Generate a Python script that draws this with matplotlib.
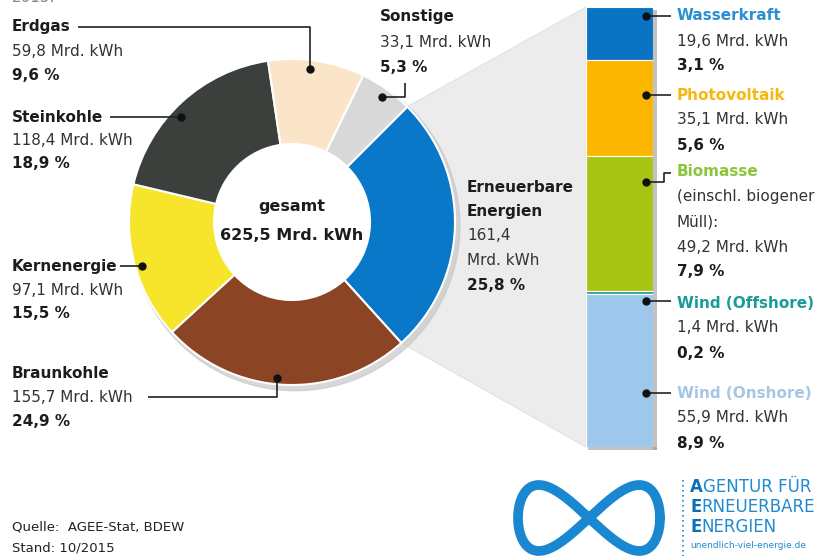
import numpy as np
import matplotlib.pyplot as plt
from matplotlib.patches import Polygon, Rectangle, Wedge

W, H = 826, 560

# gross electricity generation 2015, Mrd. kWh (clockwise from top right)
sources = ['Erneuerbare Energien', 'Braunkohle', 'Kernenergie', 'Steinkohle', 'Erdgas', 'Sonstige']
twh = [161.4, 155.7, 97.1, 118.4, 59.8, 33.1]
shares = ['25,8 %', '24,9 %', '15,5 %', '18,9 %', '9,6 %', '5,3 %']
src_colors = ['#0a78c8', '#8b4424', '#f6e52b', '#3b403d', '#fbe5c8', '#d8d8d8']
total = '625,5'

# renewables split, top to bottom
ee_names = ['Wasserkraft', 'Photovoltaik', 'Biomasse', 'Wind (Offshore)', 'Wind (Onshore)']
ee_twh = [19.6, 35.1, 49.2, 1.4, 55.9]
ee_shares = ['3,1 %', '5,6 %', '7,9 %', '0,2 %', '8,9 %']
ee_colors = ['#0b73c4', '#fbb700', '#a8c514', '#2f9e9e', '#9dc8eb']
ee_text_colors = ['#2a90d2', '#f5b80c', '#8cc43c', '#1b9a9a', '#a6c6e4']

DARK = '#1c1c1c'
GREY = '#333333'
FS = 11
LOGO = '#1f8ad0'

fig = plt.figure(figsize=(W / 100, H / 100), dpi=100)


def px_axes(x0, y0, w, h):
    a = fig.add_axes([x0 / W, 1 - (y0 + h) / H, w / W, h / H])
    a.patch.set_visible(False)
    a.axis('off')
    return a


# background layer: grey funnel from the donut to the bar
bg = px_axes(0, 0, W, H)
bg.set_xlim(0, W)
bg.set_ylim(H, 0)

cx, cy, R, ring = 292, 222, 163, 85
bx0, by0, bw, bh = 586, 7, 67, 440

a0 = 45
a1 = a0 - 360 * twh[0] / sum(twh)
p0 = (cx + R * np.cos(np.radians(a0)), cy - R * np.sin(np.radians(a0)))
p1 = (cx + R * np.cos(np.radians(a1)), cy - R * np.sin(np.radians(a1)))
bg.add_patch(Polygon([p0, (bx0, by0), (bx0, by0 + bh), p1], closed=True,
                     facecolor='#ececec', edgecolor='#e2e2e2', lw=0.8))
# bar shadow
bg.add_patch(Rectangle((bx0 + bw, by0 + 3), 4, bh, color='#9a9a9a', alpha=0.6, lw=0))
bg.add_patch(Rectangle((bx0 + 2, by0 + bh), bw + 2, 3, color='#9a9a9a', alpha=0.6, lw=0))

# donut
pad = 10
ax_pie = px_axes(cx - R - pad, cy - R - pad, 2 * R + 2 * pad, 2 * R + 2 * pad)
ax_pie.add_patch(Wedge((0.02, -0.025), 1.01, 0, 360, width=0.07, color='#c8c8c8', alpha=0.7))
ax_pie.pie(twh, colors=src_colors, startangle=a0, counterclock=False, radius=1,
           wedgeprops=dict(width=ring / R, edgecolor='white', linewidth=1.5))
lim = 1 + pad / R
ax_pie.set_xlim(-lim, lim)
ax_pie.set_ylim(-lim, lim)
ax_pie.axis('off')

# stacked renewables bar
ax_bar = px_axes(bx0, by0, bw, bh)
bottoms = np.concatenate([[0], np.cumsum(ee_twh)[:-1]])
ax_bar.bar(0, ee_twh, bottom=bottoms, width=1, color=ee_colors, edgecolor='white', linewidth=0.8)
ax_bar.set_xlim(-0.5, 0.5)
ax_bar.set_ylim(sum(ee_twh), 0)
ax_bar.axis('off')

# overlay: labels, leaders, logo
ov = px_axes(0, 0, W, H)
ov.set_xlim(0, W)
ov.set_ylim(H, 0)


def label(x, y, title, lines, share, title_color=DARK, step=24.5):
    for i, t in enumerate(title.split('\n')):
        ov.text(x, y + i * step, t, fontsize=FS, fontweight='bold', color=title_color, va='center')
    y += len(title.split('\n')) * step
    for t in lines:
        ov.text(x, y, t, fontsize=FS, color=GREY, va='center')
        y += step
    ov.text(x, y, share, fontsize=FS, fontweight='bold', color=DARK, va='center')


def leader(pts):
    xs, ys = zip(*pts)
    ov.plot(xs, ys, color='#222222', lw=1.2, solid_capstyle='butt')
    ov.plot(xs[-1], ys[-1], 'o', color='#111111', ms=5)


val = lambda v: f'{v:.1f}'.replace('.', ',') + ' Mrd. kWh'

# labels round the donut
label(12, 27, sources[4], [val(twh[4])], shares[4])
label(12, 117, sources[3], [val(twh[3])], shares[3], step=23.5)
label(12, 267, sources[2], [val(twh[2])], shares[2], step=23.5)
label(12, 373, sources[1], [val(twh[1])], shares[1])
label(380, 17, sources[5], [val(twh[5])], shares[5], step=25.5)
label(467, 187, 'Erneuerbare\nEnergien', [f'{twh[0]:.1f}'.replace('.', ','), 'Mrd. kWh'], shares[0])

leader([(78, 27), (310, 27), (310, 69)])
leader([(110, 117), (181, 117)])
leader([(120, 266), (142, 266)])
leader([(148, 397), (277, 397), (277, 378)])
leader([(405, 83), (405, 97), (382, 97)])

ov.text(cx, 207, 'gesamt', fontsize=11.5, fontweight='bold', color=DARK, ha='center', va='center')
ov.text(cx, 236, f'{total} Mrd. kWh', fontsize=11.5, fontweight='bold', color=DARK,
        ha='center', va='center')

# labels right of the bar
rx = 677
ee_y = [16, 95, 172, 303, 393]
for i, name in enumerate(ee_names):
    extra = ['(einschl. biogener', 'Müll):'] if name == 'Biomasse' else []
    label(rx, ee_y[i], name, extra + [val(ee_twh[i])], ee_shares[i],
          title_color=ee_text_colors[i], step=25)

leader([(671, 16), (646, 16)])
leader([(671, 95), (646, 95)])
leader([(671, 173), (664, 173), (664, 182), (646, 182)])
leader([(671, 301), (646, 301)])
leader([(671, 393), (646, 393)])

ov.text(12, -3, '2015:', fontsize=FS, color='#888888', va='center')

# source
ov.text(12, 527, 'Quelle:  AGEE-Stat, BDEW', fontsize=9.5, color='#222222', va='center')
ov.text(12, 548, 'Stand: 10/2015', fontsize=9.5, color='#222222', va='center')

# logo
t = np.linspace(0, 2 * np.pi, 400)
ov.plot(589 + 71 * np.cos(t), 518 + 66 * np.sin(t) * np.cos(t), color='#1a88d0', lw=7,
        solid_capstyle='round')
ov.plot([683, 683], [480, 556], color=LOGO, lw=1.2, ls=(0, (1, 2)))
for y, word in zip([487, 507, 527], ['AGENTUR FÜR', 'ERNEUERBARE', 'ENERGIEN']):
    first = ov.text(690, y, word[0], fontsize=12, fontweight='bold', color='#0d6fb8', va='center')
    ov.annotate(word[1:], xycoords=first, xy=(1, 0.5), va='center', fontsize=12, color=LOGO)
ov.text(690, 546, 'unendlich-viel-energie.de', fontsize=6.5, color=LOGO, va='center')

fig.savefig('out.png', dpi=100, facecolor='white')
